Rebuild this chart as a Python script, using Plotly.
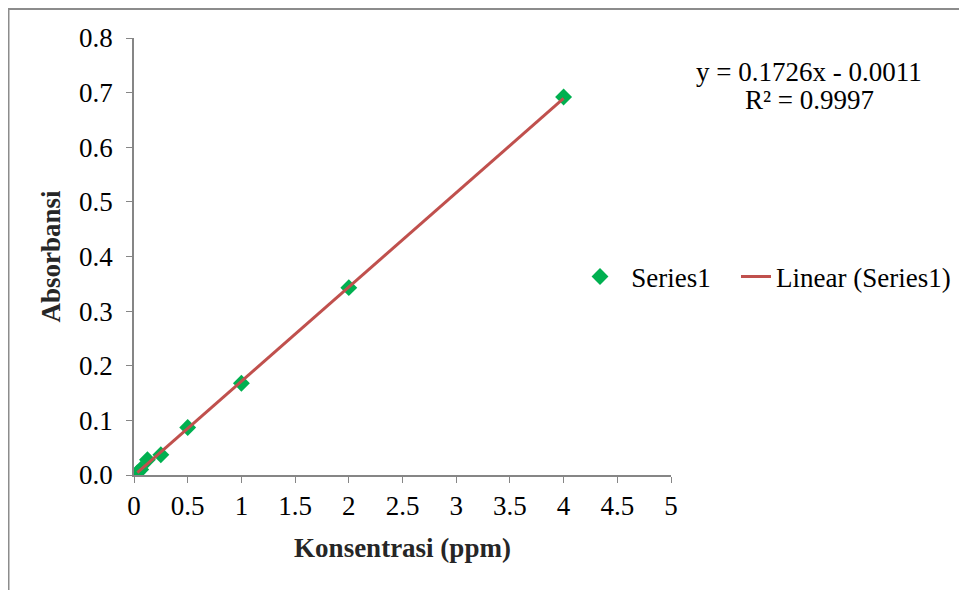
import plotly.graph_objects as go

# Data
konsentrasi = [0.03125, 0.0625, 0.125, 0.25, 0.5, 1, 2, 4]
absorbansi = [0.004, 0.010, 0.028, 0.037, 0.087, 0.168, 0.343, 0.692]
slope = 0.1726
intercept = -0.0011
r_squared = 0.9997
x_ticks = [0, 0.5, 1, 1.5, 2, 2.5, 3, 3.5, 4, 4.5, 5]
y_ticks = [0, 0.1, 0.2, 0.3, 0.4, 0.5, 0.6, 0.7, 0.8]

trend_x = [min(konsentrasi), max(konsentrasi)]
trend_y = [slope * v + intercept for v in trend_x]

FONT = "Liberation Serif, Times New Roman, serif"
FS = 27
AXIS_GRAY = "#868686"

# The page adds an 8px body margin; layout values below are set so that the
# plot area lands at x 134..671 and y 38..475 in the final screenshot.
L, T, PW, PH = 126, 30, 537, 437


def px_x(page_x):
    return (page_x - 134) / PW


def px_y(page_y):
    return (475 - page_y) / PH


fig = go.Figure()
fig.add_trace(go.Scatter(
    x=konsentrasi, y=absorbansi, mode="markers",
    name="\u00a0\u2006Series1\u00a0\u00a0\u00a0",
    marker=dict(symbol="diamond", size=13, color="#00B050"),
))
fig.add_trace(go.Scatter(
    x=trend_x, y=trend_y, mode="lines", name="Linear (Series1)",
    line=dict(color="#C0504D", width=3),
))

fig.update_layout(
    width=967, height=590,
    margin=dict(l=L, r=967 - L - PW, t=T, b=590 - T - PH, autoexpand=False),
    paper_bgcolor="white", plot_bgcolor="white",
    font=dict(family=FONT, size=FS, color="black"),
    showlegend=True,
    legend=dict(
        orientation="h", x=px_x(580), xanchor="left",
        y=px_y(277), yanchor="middle",
        font=dict(family=FONT, size=FS, color="black"),
        bgcolor="rgba(0,0,0,0)", itemwidth=30,
    ),
    xaxis=dict(
        range=[0, 5], tickvals=x_ticks, ticktext=[f"{v:g}" for v in x_ticks],
        showgrid=False, zeroline=False, showline=True, linecolor=AXIS_GRAY,
        linewidth=1.5, ticks="outside", ticklen=6, tickcolor=AXIS_GRAY,
        tickfont=dict(family=FONT, size=FS, color="black"),
        automargin=False,
        title=dict(text="<b>Konsentrasi (ppm)</b>", standoff=18,
                   font=dict(family=FONT, size=FS, color="#262626")),
    ),
    yaxis=dict(
        range=[0, 0.8], tickvals=y_ticks, ticktext=[f"{v:.1f}" for v in y_ticks],
        showgrid=False, zeroline=False, showline=True, linecolor=AXIS_GRAY,
        linewidth=1.5, ticks="outside", ticklen=6, tickcolor=AXIS_GRAY,
        ticklabelstandoff=8,
        tickfont=dict(family=FONT, size=FS, color="black"),
        automargin=False,
        title=dict(text="<b>Absorbansi</b>", standoff=11,
                   font=dict(family=FONT, size=FS, color="#262626")),
    ),
    shapes=[dict(
        type="rect", xref="paper", yref="paper",
        x0=px_x(8.5), x1=2.0, y0=-1.0, y1=px_y(9),
        line=dict(color="#8c8c8c", width=2), layer="below",
    )],
    annotations=[
        dict(xref="paper", yref="paper", x=px_x(809), y=px_y(72),
             text=f"y = {slope}x - {abs(intercept)}", showarrow=False,
             xanchor="center", yanchor="middle",
             font=dict(family=FONT, size=FS, color="black")),
        dict(xref="paper", yref="paper", x=px_x(809), y=px_y(100),
             text=f"R² = {r_squared}", showarrow=False,
             xanchor="center", yanchor="middle",
             font=dict(family=FONT, size=FS, color="black")),
    ],
)

fig.write_html("out.html")
